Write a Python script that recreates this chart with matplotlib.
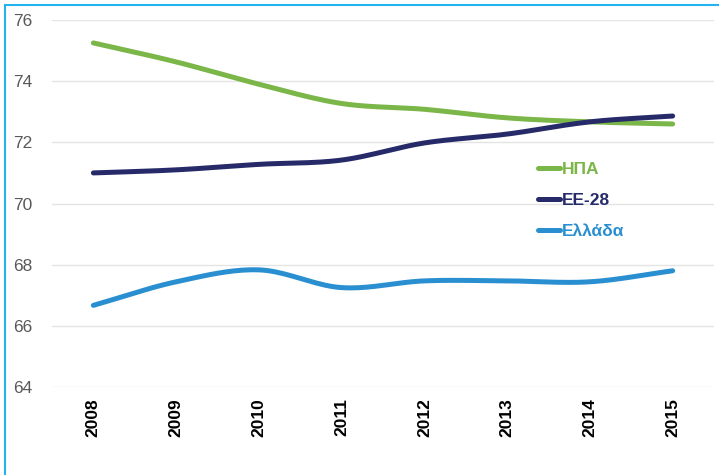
import numpy as np
import matplotlib.pyplot as plt
from matplotlib.patches import Rectangle

years = ["2008", "2009", "2010", "2011", "2012", "2013", "2014", "2015"]
hpa = [75.25, 74.63, 73.9, 73.27, 73.08, 72.8, 72.67, 72.6]
ee28 = [71.0, 71.1, 71.28, 71.42, 71.98, 72.27, 72.67, 72.86]
ellada = [66.67, 67.44, 67.83, 67.25, 67.47, 67.47, 67.44, 67.8]

labels = ["ΗΠΑ", "ΕΕ-28", "Ελλάδα"]
colors = ["#7ab648", "#262a68", "#2a8fd0"]


def smooth(y, n=20):
    # Catmull-Rom curve through the points, like Excel's smoothed line
    y = np.asarray(y, dtype=float)
    x = np.arange(len(y), dtype=float)
    px = np.concatenate([[2 * x[0] - x[1]], x, [2 * x[-1] - x[-2]]])
    py = np.concatenate([[2 * y[0] - y[1]], y, [2 * y[-1] - y[-2]]])
    xs, ys = [], []
    t = np.linspace(0, 1, n, endpoint=False)
    for i in range(1, len(px) - 2):
        for arr, out in ((px, xs), (py, ys)):
            p0, p1, p2, p3 = arr[i - 1], arr[i], arr[i + 1], arr[i + 2]
            out.extend(0.5 * (2 * p1 + (-p0 + p2) * t
                              + (2 * p0 - 5 * p1 + 4 * p2 - p3) * t ** 2
                              + (-p0 + 3 * p1 - 3 * p2 + p3) * t ** 3))
    xs.append(x[-1])
    ys.append(y[-1])
    return np.array(xs), np.array(ys)


plt.rcParams["font.family"] = ["Liberation Sans", "DejaVu Sans"]

fig = plt.figure(figsize=(7.19, 4.75), dpi=100)
ax = fig.add_axes([52 / 719, 1 - 387 / 475, 662 / 719, 367 / 475])

for vals, lab, col in zip([hpa, ee28, ellada], labels, colors):
    sx, sy = smooth(vals)
    ax.plot(sx, sy, color=col, lw=3.6, solid_capstyle="round", label=lab)

ax.set_xlim(-0.5, 7.5)
ax.set_ylim(64, 76)
ax.set_yticks([64, 66, 68, 70, 72, 74, 76])
ax.set_xticks(range(len(years)))
ax.set_xticklabels(years, rotation=90, fontsize=12.5, fontweight="bold", color="black")
ax.tick_params(axis="y", length=0, pad=14, labelsize=12.5, labelcolor="#595959")
ax.tick_params(axis="x", length=0, pad=8)
ax.grid(axis="y", color="#e4e4e4", lw=1)
ax.set_axisbelow(True)
for s in ax.spines.values():
    s.set_visible(False)

leg = ax.legend(loc="upper left", bbox_to_anchor=(0.71, 0.655), frameon=False,
                handlelength=1.3, handletextpad=0.1, labelspacing=0.9,
                prop={"size": 12.5, "weight": "bold"})
for txt, col in zip(leg.get_texts(), colors):
    txt.set_color(col)

fig.patches.append(Rectangle((5 / 719, -0.1), 1.2, 1.1 - 5 / 475,
                             transform=fig.transFigure, fill=False,
                             edgecolor="#22b4ee", lw=1.5))

fig.savefig("out.png", dpi=100)
